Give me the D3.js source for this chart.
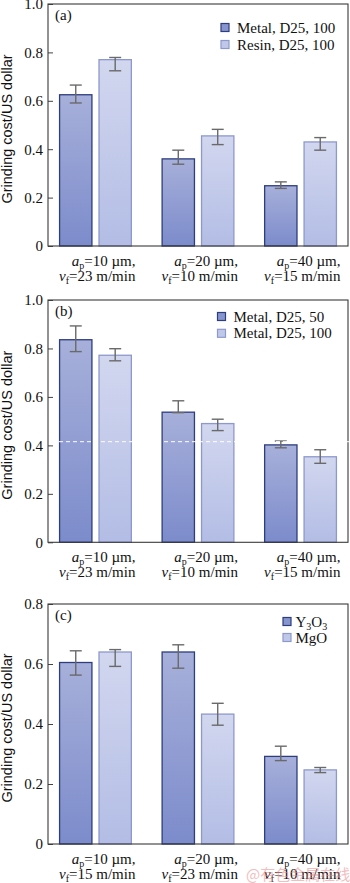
<!DOCTYPE html>
<html>
<head>
<meta charset="utf-8">
<script src="https://cdn.jsdelivr.net/npm/d3@7"></script>
<style>
  html, body { margin: 0; padding: 0; background: #fff; }
  svg { display: block; }
</style>
</head>
<body>
<div class="graph"><svg></svg></div>
<script>
// grinding conditions per group (depth of cut in µm, feed in m/min)
const apValues = [10, 20, 40]
const vfAB = [23, 10, 15]
const vfC = [15, 23, 10]

const yTicksAB = [0, 0.2, 0.4, 0.6, 0.8, 1.0]
const yTicksC = [0, 0.2, 0.4, 0.6, 0.8]

// (a) metal vs resin bond
const metalD25100a = [0.625, 0.360, 0.249]
const metalD25100aLo = [0.591, 0.338, 0.238]
const metalD25100aHi = [0.665, 0.396, 0.265]
const resinD25100 = [0.770, 0.455, 0.430]
const resinD25100Lo = [0.724, 0.419, 0.396]
const resinD25100Hi = [0.779, 0.482, 0.448]

// (b) concentration 50 vs 100
const metalD2550 = [0.836, 0.537, 0.402]
const metalD2550Lo = [0.787, 0.535, 0.390]
const metalD2550Hi = [0.893, 0.584, 0.418]
const metalD25100b = [0.772, 0.490, 0.353]
const metalD25100bLo = [0.749, 0.461, 0.326]
const metalD25100bHi = [0.799, 0.508, 0.382]

// (c) Y3O3 vs MgO
const y3o3 = [0.605, 0.640, 0.292]
const y3o3Lo = [0.563, 0.586, 0.278]
const y3o3Hi = [0.644, 0.664, 0.326]
const mgo = [0.640, 0.433, 0.247]
const mgoLo = [0.592, 0.396, 0.238]
const mgoHi = [0.648, 0.469, 0.255]

const W = 350
const H = 883
const left = 48
const right = 348

const svg = d3.select('.graph').select('svg')
  .attr('width', W)
  .attr('height', H)
  .attr('font-family', '"Liberation Serif", "Times New Roman", serif')

// vertical gradients for the two bar styles
const defs = svg.append('defs')
function addGradient (id, top, bottom) {
  const g = defs.append('linearGradient')
    .attr('id', id)
    .attr('x1', 0).attr('y1', 0).attr('x2', 0).attr('y2', 1)
  g.append('stop').attr('offset', '0%').attr('stop-color', top)
  g.append('stop').attr('offset', '100%').attr('stop-color', bottom)
}
addGradient('dark-fill', '#a7b0da', '#7c8bcb')
addGradient('light-fill', '#d2d7ef', '#b3bde5')

const styles = {
  dark: { fill: 'url(#dark-fill)', stroke: '#2d3d7e', swatch: '#8795cf' },
  light: { fill: 'url(#light-fill)', stroke: '#8d99cc', swatch: '#c0c8ea' }
}

const panels = [
  {
    label: '(a)', top: 4, bottom: 246, yMax: 1.0, ticks: yTicksAB, vf: vfAB,
    legendX: 221, legendY: 23.5, legendText: 237, legendGap: 17,
    series: [
      { name: ['Metal, D25, 100'], style: 'dark', values: metalD25100a, lo: metalD25100aLo, hi: metalD25100aHi },
      { name: ['Resin, D25, 100'], style: 'light', values: resinD25100, lo: resinD25100Lo, hi: resinD25100Hi }
    ]
  },
  {
    label: '(b)', top: 300, bottom: 542.3, yMax: 1.0, ticks: yTicksAB, vf: vfAB,
    legendX: 217.5, legendY: 312.5, legendText: 233.5, legendGap: 16.8,
    series: [
      { name: ['Metal, D25, 50'], style: 'dark', values: metalD2550, lo: metalD2550Lo, hi: metalD2550Hi },
      { name: ['Metal, D25, 100'], style: 'light', values: metalD25100b, lo: metalD25100bLo, hi: metalD25100bHi }
    ]
  },
  {
    label: '(c)', top: 604, bottom: 844, yMax: 0.8, ticks: yTicksC, vf: vfC,
    legendX: 283, legendY: 617.5, legendText: 295.5, legendGap: 16,
    series: [
      { name: ['Y', '3', 'O', '3'], style: 'dark', values: y3o3, lo: y3o3Lo, hi: y3o3Hi },
      { name: ['MgO'], style: 'light', values: mgo, lo: mgoLo, hi: mgoHi }
    ]
  }
]

const groups = apValues.map((d, i) => i)

const xScale = d3.scaleBand()
  .domain(groups)
  .range([left, right])
  .paddingInner(0.3)
  .paddingOuter(0.113)

/**
 * Draws one of the three stacked bar-chart panels.
 *
 * @param {object} p The panel description
 */
function drawPanel (p) {
  const g = svg.append('g')
  const yScale = d3.scaleLinear().domain([0, p.yMax]).range([p.bottom, p.top])
  const xSub = d3.scaleBand()
    .domain(p.series.map((s, i) => i))
    .range([0, xScale.bandwidth()])
    .paddingInner(0.18)

  // y axis with inward ticks
  const yAxis = g.append('g')
    .attr('transform', 'translate(' + left + ',0)')
    .call(d3.axisLeft(yScale)
      .tickValues(p.ticks)
      .tickSize(-5)
      .tickPadding(5)
      .tickFormat(d => d === 0 ? '0' : d3.format('.1f')(d)))
  yAxis.select('.domain').remove()
  yAxis.selectAll('line').attr('stroke', '#444')
  yAxis.selectAll('text')
    .attr('font-family', '"Liberation Serif", serif')
    .attr('font-size', 15)
    .attr('fill', '#111')

  // bars
  p.series.forEach((s, si) => {
    const st = styles[s.style]
    g.append('g').selectAll('rect')
      .data(s.values)
      .join('rect')
      .attr('x', (d, i) => xScale(i) + xSub(si))
      .attr('y', d => yScale(d))
      .attr('width', xSub.bandwidth())
      .attr('height', d => yScale(0) - yScale(d))
      .attr('fill', st.fill)
      .attr('stroke', st.stroke)
      .attr('stroke-width', 1.3)

    // error bars
    const eb = g.append('g')
      .attr('stroke', '#6a6a6a')
      .attr('stroke-width', 1.4)
    s.values.forEach((v, i) => {
      const cx = xScale(i) + xSub(si) + xSub.bandwidth() / 2
      const y1 = yScale(s.hi[i])
      const y2 = yScale(s.lo[i])
      eb.append('line').attr('x1', cx).attr('x2', cx).attr('y1', y1).attr('y2', y2)
      eb.append('line').attr('x1', cx - 6).attr('x2', cx + 6).attr('y1', y1).attr('y2', y1)
      eb.append('line').attr('x1', cx - 6).attr('x2', cx + 6).attr('y1', y2).attr('y2', y2)
    })
  })

  // plot frame
  g.append('rect')
    .attr('x', left)
    .attr('y', p.top)
    .attr('width', right - left)
    .attr('height', p.bottom - p.top)
    .attr('fill', 'none')
    .attr('stroke', '#3a3a3a')
    .attr('stroke-width', 1.1)

  // panel letter
  g.append('text')
    .text(p.label)
    .attr('x', 55)
    .attr('y', p.top + 16)
    .attr('font-size', 15)
    .attr('fill', '#111')

  // y title
  g.append('text')
    .text('Grinding cost/US dollar')
    .attr('transform', 'translate(12,' + ((p.top + p.bottom) / 2 + 4) + ') rotate(-90)')
    .attr('text-anchor', 'middle')
    .attr('font-family', '"Liberation Sans", Arial, sans-serif')
    .attr('font-size', 14.5)
    .attr('fill', '#111')

  // x category labels (two lines, right aligned)
  groups.forEach(i => {
    const xr = xScale(i) + xScale.bandwidth() / 2 + 40
    const t1 = g.append('text')
      .attr('x', xr)
      .attr('y', p.bottom + 20)
      .attr('text-anchor', 'end')
      .attr('font-size', 15)
      .attr('fill', '#111')
    t1.append('tspan').attr('font-style', 'italic').text('a')
    t1.append('tspan').attr('font-size', 10).attr('dy', 3).text('p')
    t1.append('tspan').attr('dy', -3).text('=' + apValues[i] + ' \u00b5m,')

    const t2 = g.append('text')
      .attr('x', xr)
      .attr('y', p.bottom + 35)
      .attr('text-anchor', 'end')
      .attr('font-size', 15)
      .attr('fill', '#111')
    t2.append('tspan').attr('font-style', 'italic').text('v')
    t2.append('tspan').attr('font-size', 10).attr('dy', 3).text('f')
    t2.append('tspan').attr('dy', -3).text('=' + p.vf[i] + ' m/min')
  })

  // legend
  p.series.forEach((s, si) => {
    const st = styles[s.style]
    const y0 = p.legendY + si * p.legendGap
    g.append('rect')
      .attr('x', p.legendX)
      .attr('y', y0)
      .attr('width', 8)
      .attr('height', 8)
      .attr('fill', st.swatch)
      .attr('stroke', st.stroke)
      .attr('stroke-width', 1.2)
    const t = g.append('text')
      .attr('x', p.legendText)
      .attr('y', y0 + 9)
      .attr('font-size', 15)
      .attr('fill', '#111')
    if (s.name.length === 1) {
      t.text(s.name[0])
    } else {
      t.append('tspan').text(s.name[0])
      t.append('tspan').attr('font-size', 10).attr('dy', 3).text(s.name[1])
      t.append('tspan').attr('dy', -3).text(s.name[2])
      t.append('tspan').attr('font-size', 10).attr('dy', 3).text(s.name[3])
    }
  })
}

panels.forEach(drawPanel)

// stray white dashed scan line across panel (b)
svg.append('line')
  .attr('x1', 52).attr('x2', 350)
  .attr('y1', 441.7).attr('y2', 441.7)
  .attr('stroke', '#ffffff')
  .attr('stroke-width', 1)
  .attr('stroke-dasharray', '4,3')

// watermark
svg.append('text')
  .text('@有色金属在线')
  .attr('x', 246)
  .attr('y', 880)
  .attr('font-family', '"Noto Sans CJK SC", sans-serif')
  .attr('font-size', 15)
  .attr('fill', '#e58a8a')
  .attr('opacity', 0.55)
</script>
</body>
</html>
